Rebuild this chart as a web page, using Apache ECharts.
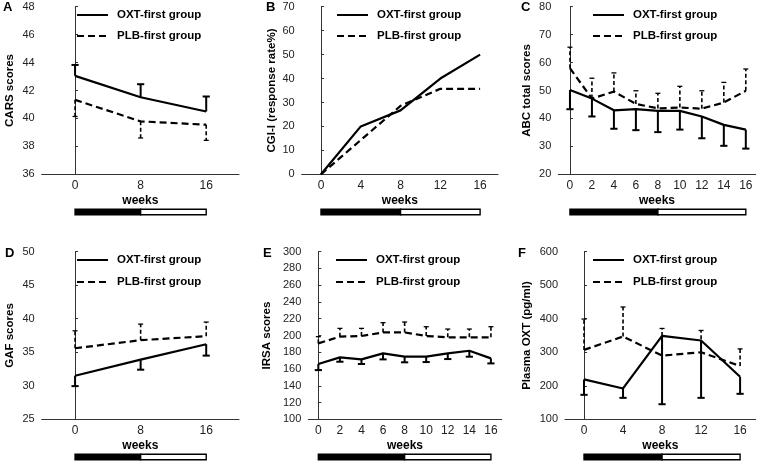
<!DOCTYPE html>
<html>
<head>
<meta charset="utf-8">
<script src="https://cdn.jsdelivr.net/npm/echarts@6/dist/echarts.min.js"></script>
<style>
html,body{margin:0;padding:0;background:#fff;}
#main{width:760px;height:464px;}
</style>
</head>
<body>
<div id="main"></div>
<script>
// ---------- data ----------
const weeks3 = [0, 8, 16];
const weeks5 = [0, 4, 8, 12, 16];
const weeks9 = [0, 2, 4, 6, 8, 10, 12, 14, 16];
const phaseEdges = [0, 8, 16];

// A: CARS
const carsOxt = [43.05, 41.52, 40.5];
const carsOxtErr = [43.83, 42.45, 41.57];
const carsPlb = [41.33, 39.79, 39.55];
const carsPlbErr = [40.14, 38.6, 38.43];

// B: CGI-I
const cgiOxt = [0, 20, 26.7, 40, 50];
const cgiPlb = [0, 14.3, 28.6, 35.7, 35.7];

// C: ABC
const abcOxt = [50.2, 47.1, 42.9, 43.3, 42.7, 42.7, 40.7, 37.7, 36.0];
const abcOxtErr = [43.3, 40.7, 36.3, 35.8, 35.1, 36.0, 32.9, 30.2, 29.2];
const abcPlb = [58.0, 47.1, 49.6, 45.2, 43.6, 43.9, 43.5, 45.7, 49.9];
const abcPlbErr = [65.5, 54.4, 56.3, 49.9, 49.0, 51.5, 49.9, 52.9, 57.7];

// D: GAF
const gafOxt = [31.5, 33.9, 36.2];
const gafOxtErr = [29.95, 32.4, 34.5];
const gafPlb = [35.6, 36.8, 37.4];
const gafPlbErr = [38.2, 39.2, 39.5];

// E: IRSA
const irsaOxt = [166, 173.9, 171.5, 178.6, 174.7, 174.7, 178.6, 181.8, 172.7];
const irsaOxtErr = [158.7, 168.7, 166, 171.5, 168, 168.3, 171.9, 174.7, 166.7];
const irsaPlb = [190.6, 198.6, 199.4, 203.7, 203.7, 199.4, 197.8, 197.8, 197.8];
const irsaPlbErr = [198.6, 208.5, 208.5, 215.3, 216.1, 210.5, 207.7, 207.7, 210.5];

// F: Plasma OXT
const poxtOxt = [219, 192, 349, 335, 227];
const poxtOxtErr = [173, 164, 145, 164, 176];
const poxtPlb = [307, 347, 290, 300, 259];
const poxtPlbErr = [399, 435, 371, 365, 310];

const OXT = 'OXT-first group';
const PLB = 'PLB-first group';

// ---------- panels ----------
const panels = [
  {letter:'A', yName:'CARS scores', ymin:36, ymax:48, yint:2, xmin:-4.07, xmax:20, ticks:weeks3,
   x:weeks3, oxt:carsOxt, oxtErr:carsOxtErr, plb:carsPlb, plbErr:carsPlbErr,
   grid:{left:41.7, top:6.7, width:197.3, height:167.6}, nameGap:26, legend:{left:76, top:9, gap:9}, title:{left:3, top:1}},
  {letter:'B', yName:'CGI-I (response rate%)', ymin:0, ymax:70, yint:10, xmin:-1.94, xmax:17.8, ticks:weeks5,
   x:weeks5, oxt:cgiOxt, plb:cgiPlb,
   grid:{left:301.7, top:6.7, width:196.3, height:167.6}, nameGap:24, legend:{left:336, top:9, gap:9}, title:{left:266, top:1}},
  {letter:'C', yName:'ABC total scores', ymin:20, ymax:80, yint:10, xmin:-1.06, xmax:16.9, ticks:weeks9,
   x:weeks9, oxt:abcOxt, oxtErr:abcOxtErr, plb:abcPlb, plbErr:abcPlbErr,
   grid:{left:558.3, top:6.7, width:197.4, height:167.6}, nameGap:25, legend:{left:592, top:9, gap:9}, title:{left:521, top:1}},
  {letter:'D', yName:'GAF scores', ymin:25, ymax:50, yint:5, xmin:-4.07, xmax:20, ticks:weeks3,
   x:weeks3, oxt:gafOxt, oxtErr:gafOxtErr, plb:gafPlb, plbErr:gafPlbErr,
   grid:{left:41.7, top:251.7, width:197.3, height:167.6}, nameGap:26, legend:{left:76, top:254, gap:10}, title:{left:5, top:247}},
  {letter:'E', yName:'IRSA scores', ymin:100, ymax:300, yint:20, xmin:-0.93, xmax:17.0, ticks:weeks9,
   x:weeks9, oxt:irsaOxt, oxtErr:irsaOxtErr, plb:irsaPlb, plbErr:irsaPlbErr,
   grid:{left:308.3, top:251.7, width:193.4, height:167.6}, nameGap:35, legend:{left:335, top:254, gap:10}, title:{left:263, top:247}},
  {letter:'F', yName:'Plasma OXT (pg/ml)', ymin:100, ymax:600, yint:100, xmin:-1.95, xmax:17.6, ticks:weeks5,
   x:weeks5, oxt:poxtOxt, oxtErr:poxtOxtErr, plb:poxtPlb, plbErr:poxtPlbErr,
   grid:{left:565, top:251.7, width:190.7, height:167.6}, nameGap:32, legend:{left:592, top:254, gap:10}, title:{left:518, top:247}}
];

const FONT = 'Liberation Sans, Arial, sans-serif';

function errRender(dashed) {
  return function (params, api) {
    const x = api.value(0), m = api.value(1), e = api.value(2);
    const p0 = api.coord([x, m]);
    const p1 = api.coord([x, e]);
    const cw = dashed ? 2.5 : 3.6;
    return {
      type: 'group',
      children: [
        {type:'line', shape:{x1:p0[0], y1:p0[1], x2:p1[0], y2:p1[1]},
         style:{stroke:'#000', lineWidth: dashed ? 1.6 : 2, lineDash: dashed ? [4, 2.5] : null}},
        {type:'line', shape:{x1:p1[0]-cw, y1:p1[1], x2:p1[0]+cw, y2:p1[1]},
         style:{stroke:'#000', lineWidth: dashed ? 1.3 : 2}}
      ]
    };
  };
}

function phaseRender(params, api) {
  const cs = params.coordSys;
  const a = api.coord([api.value(0), 0])[0];
  const b = api.coord([api.value(1), 0])[0];
  const y = cs.y + cs.height + 35;
  return {
    type:'rect',
    shape:{x:a, y:y, width:b-a, height:5.5},
    style:{fill: params.dataIndex === 0 ? '#000' : '#fff', stroke:'#000', lineWidth:1.4}
  };
}

const option = {
  animation:false,
  backgroundColor:'#fff',
  title:[], legend:[], grid:[], xAxis:[], yAxis:[], series:[]
};

panels.forEach((p, i) => {
  option.title.push({text:p.letter, left:p.title.left, top:p.title.top, padding:0,
    textStyle:{fontFamily:FONT, fontSize:13, fontWeight:'bold', color:'#000'}});
  option.legend.push({data:[OXT, PLB], orient:'vertical', left:p.legend.left, top:p.legend.top,
    padding:0, itemWidth:31, itemHeight:14, itemGap:p.legend.gap, selectedMode:false,
    itemStyle:{opacity:0},
    textStyle:{fontFamily:FONT, fontSize:11.5, fontWeight:'bold', color:'#000', padding:[0,0,0,4]}});
  option.grid.push(Object.assign({containLabel:false}, p.grid));
  option.xAxis.push({type:'value', gridIndex:i, min:p.xmin, max:p.xmax,
    name:'weeks', nameLocation:'middle', nameGap:20,
    nameTextStyle:{fontFamily:FONT, fontSize:12, fontWeight:'bold', color:'#000'},
    axisLine:{show:true, onZero:false, lineStyle:{color:'#333', width:1}},
    axisTick:{show:false},
    splitLine:{show:false},
    axisLabel:{customValues:p.ticks, margin:5, fontFamily:FONT, fontSize:12, color:'#222'}
  });
  option.yAxis.push({type:'value', gridIndex:i, min:p.ymin, max:p.ymax, interval:p.yint,
    name:p.yName, nameLocation:'middle', nameGap:p.nameGap,
    nameTextStyle:{fontFamily:FONT, fontSize:11.5, fontWeight:'bold', color:'#000'},
    axisLine:{show:true, lineStyle:{color:'#333', width:1}},
    axisTick:{show:true, inside:true, length:3, lineStyle:{color:'#333'}},
    splitLine:{show:false},
    axisLabel:{margin:7, fontFamily:FONT, fontSize:11, color:'#222'}
  });
  const pair = (xs, ys) => xs.map((x, k) => [x, ys[k]]);
  const triple = (xs, ys, es) => xs.map((x, k) => [x, ys[k], es[k]]);
  if (p.oxtErr) {
    option.series.push({type:'custom', xAxisIndex:i, yAxisIndex:i, renderItem:errRender(false),
      data:triple(p.x, p.oxt, p.oxtErr), silent:true, z:2});
    option.series.push({type:'custom', xAxisIndex:i, yAxisIndex:i, renderItem:errRender(true),
      data:triple(p.x, p.plb, p.plbErr), silent:true, z:2});
  }
  option.series.push({name:OXT, type:'line', xAxisIndex:i, yAxisIndex:i, data:pair(p.x, p.oxt),
    symbol:'none', color:'#000', lineStyle:{color:'#000', width:2.2, type:'solid'}, z:3});
  option.series.push({name:PLB, type:'line', xAxisIndex:i, yAxisIndex:i, data:pair(p.x, p.plb),
    symbol:'none', color:'#000', lineStyle:{color:'#000', width:2.2, type:[7, 4]}, z:3});
  option.series.push({type:'custom', xAxisIndex:i, yAxisIndex:i, renderItem:phaseRender, clip:false,
    data:[[phaseEdges[0], phaseEdges[1]], [phaseEdges[1], phaseEdges[2]]], silent:true,
    encode:{x:[0,1]}});
});

const chart = echarts.init(document.getElementById('main'), null, {renderer:'canvas'});
chart.setOption(option);
</script>
</body>
</html>
